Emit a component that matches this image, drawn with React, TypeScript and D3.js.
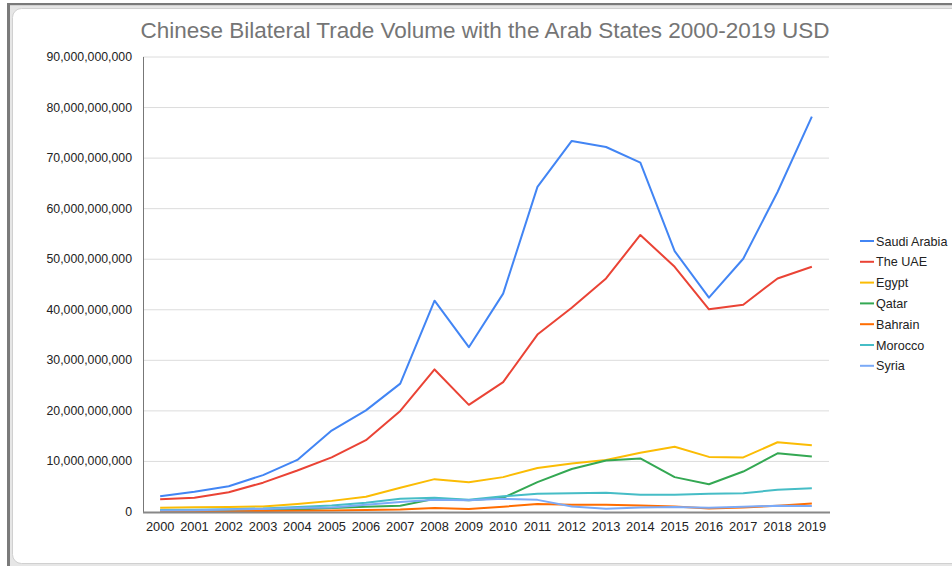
import React, { useEffect, useRef } from 'react';
import * as d3 from 'd3';

const years = ['2000', '2001', '2002', '2003', '2004', '2005', '2006', '2007', '2008', '2009',
  '2010', '2011', '2012', '2013', '2014', '2015', '2016', '2017', '2018', '2019'];

// values in billions USD
const saudiArabia = [3.1, 4.0, 5.1, 7.3, 10.3, 16.1, 20.1, 25.4, 41.8, 32.6, 43.2, 64.3, 73.4, 72.2, 69.1, 51.6, 42.4, 50.1, 63.3, 78.2];
const theUAE = [2.5, 2.8, 3.9, 5.8, 8.2, 10.8, 14.2, 20.0, 28.2, 21.2, 25.7, 35.1, 40.4, 46.2, 54.8, 48.5, 40.1, 41.0, 46.2, 48.5];
const egypt = [0.86, 0.95, 1.0, 1.1, 1.6, 2.2, 3.0, 4.8, 6.5, 5.9, 6.9, 8.7, 9.6, 10.3, 11.7, 12.9, 10.9, 10.8, 13.8, 13.2];
const qatar = [0.3, 0.35, 0.4, 0.45, 0.5, 0.8, 1.05, 1.25, 2.6, 2.3, 2.8, 5.9, 8.5, 10.2, 10.6, 6.9, 5.5, 8.0, 11.6, 11.0];
const bahrain = [0.1, 0.12, 0.15, 0.2, 0.25, 0.3, 0.4, 0.5, 0.8, 0.6, 1.05, 1.6, 1.45, 1.45, 1.3, 1.1, 0.7, 0.9, 1.25, 1.7];
const morocco = [0.4, 0.45, 0.55, 0.7, 1.0, 1.3, 1.85, 2.6, 2.8, 2.4, 3.1, 3.6, 3.7, 3.8, 3.4, 3.4, 3.6, 3.7, 4.4, 4.7];
const syria = [0.3, 0.35, 0.5, 0.6, 0.8, 0.9, 1.45, 2.0, 2.4, 2.3, 2.6, 2.4, 1.1, 0.65, 0.9, 1.0, 0.85, 1.05, 1.25, 1.2];

const seriesNames = ['Saudi Arabia', 'The UAE', 'Egypt', 'Qatar', 'Bahrain', 'Morocco', 'Syria'];
const seriesValues = [saudiArabia, theUAE, egypt, qatar, bahrain, morocco, syria];
const seriesColors = ['#4285f4', '#ea4335', '#fbbc04', '#34a853', '#ff6d01', '#46bdc6', '#7baaf7'];

const yTicks = [0, 10, 20, 30, 40, 50, 60, 70, 80, 90];

export default function App() {
  const svgRef = useRef<SVGSVGElement>(null);
  const width = 952;
  const height = 566;

  useEffect(() => {
    if (!svgRef.current) return;
    const svg = d3.select(svgRef.current);
    svg.selectAll('*').remove();

    const font = 'Arial, "Liberation Sans", sans-serif';

    // window frame
    svg.append('rect').attr('x', 0).attr('y', 0).attr('width', width).attr('height', height).attr('fill', '#fff');
    svg.append('rect').attr('x', 7).attr('y', 3).attr('width', width - 7).attr('height', 2.5).attr('fill', '#7a7a7a');
    svg.append('rect').attr('x', 7).attr('y', 3).attr('width', 3).attr('height', height - 3).attr('fill', '#7a7a7a');
    svg.append('rect').attr('x', 10).attr('y', 5.5).attr('width', width - 10).attr('height', height - 5.5).attr('fill', '#e6e6e6');
    svg.append('rect')
      .attr('x', 12.5).attr('y', 8.5).attr('width', width + 20).attr('height', 555)
      .attr('rx', 9)
      .attr('fill', '#fff')
      .attr('stroke', '#d0d0d0');

    const x = d3.scalePoint<string>().domain(years).range([143, 829]).padding(0.5);
    const y = d3.scaleLinear().domain([0, 90]).range([512, 57]);

    // gridlines
    svg.append('g')
      .selectAll('line')
      .data(yTicks.slice(1))
      .enter()
      .append('line')
      .attr('x1', 143).attr('x2', 829)
      .attr('y1', (d) => y(d)).attr('y2', (d) => y(d))
      .attr('stroke', '#dcdcdc')
      .attr('stroke-width', 1);

    // y labels
    svg.append('g')
      .selectAll('text')
      .data(yTicks)
      .enter()
      .append('text')
      .attr('x', 132)
      .attr('y', (d) => y(d) + 4)
      .attr('text-anchor', 'end')
      .attr('font-family', font)
      .attr('font-size', 12.3)
      .attr('fill', '#222')
      .text((d) => d3.format(',')(d * 1e9));

    // x labels
    svg.append('g')
      .selectAll('text')
      .data(years)
      .enter()
      .append('text')
      .attr('x', (d) => x(d)!)
      .attr('y', 531)
      .attr('text-anchor', 'middle')
      .attr('font-family', font)
      .attr('font-size', 12.8)
      .attr('fill', '#222')
      .text((d) => d);

    // axes lines
    svg.append('line').attr('x1', 143.5).attr('x2', 143.5).attr('y1', 57).attr('y2', 512)
      .attr('stroke', '#777').attr('stroke-width', 1);

    const line = d3.line<number>()
      .x((d, i) => x(years[i])!)
      .y((d) => y(d));

    seriesValues.forEach((vals, i) => {
      svg.append('path')
        .datum(vals)
        .attr('d', line)
        .attr('fill', 'none')
        .attr('stroke', seriesColors[i])
        .attr('stroke-width', 2)
        .attr('stroke-linejoin', 'round');
    });

    svg.append('line').attr('x1', 143).attr('x2', 830).attr('y1', 512.5).attr('y2', 512.5)
      .attr('stroke', '#888').attr('stroke-width', 2);

    // legend
    const legend = svg.append('g')
      .selectAll('g')
      .data(seriesNames)
      .enter()
      .append('g')
      .attr('transform', (d, i) => `translate(860, ${241 + i * 20.8})`);

    legend.append('line')
      .attr('x1', 0).attr('x2', 14)
      .attr('stroke', (d, i) => seriesColors[i])
      .attr('stroke-width', 2);

    legend.append('text')
      .attr('x', 16)
      .attr('y', 4.5)
      .attr('font-family', font)
      .attr('font-size', 12.6)
      .attr('fill', '#222')
      .text((d) => d);

    // title
    svg.append('text')
      .attr('x', 485)
      .attr('y', 38)
      .attr('text-anchor', 'middle')
      .attr('font-family', font)
      .attr('font-size', 22.5)
      .attr('fill', '#757575')
      .text('Chinese Bilateral Trade Volume with the Arab States 2000-2019 USD');
  }, []);

  return (
    <svg
      ref={svgRef}
      width={width}
      height={height}
      style={{ position: 'absolute', left: 0, top: 0, display: 'block' }}
    />
  );
}
